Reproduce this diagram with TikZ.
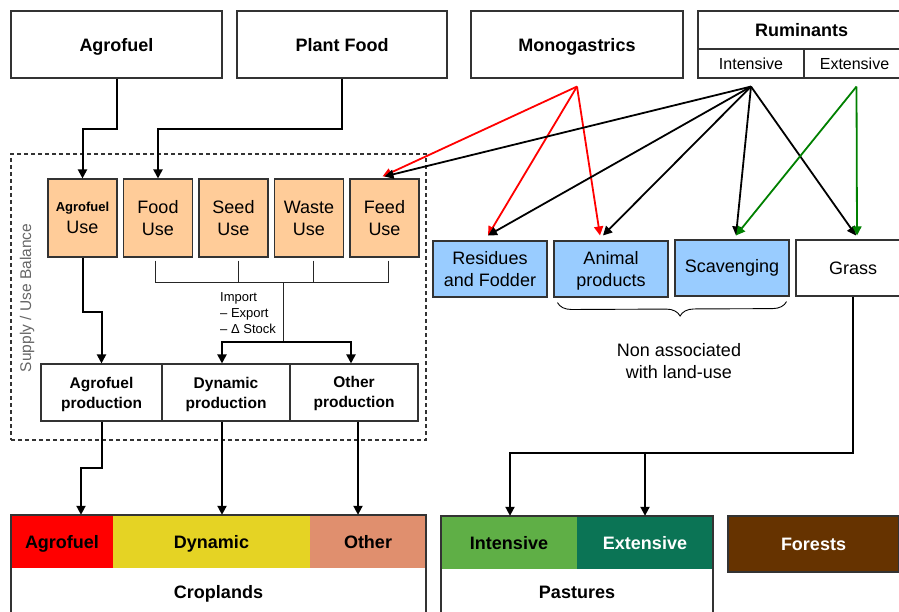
\documentclass[tikz,border=0pt]{standalone}
\usepackage{fontspec}
\setmainfont{Liberation Sans}
\usetikzlibrary{arrows.meta,decorations.pathreplacing}
\definecolor{orange1}{HTML}{FFCC99}
\definecolor{blue1}{HTML}{99CCFF}
\definecolor{cred}{HTML}{FF0000}
\definecolor{cyellow}{HTML}{E5D324}
\definecolor{csalmon}{HTML}{E08F6E}
\definecolor{cgreen}{HTML}{5FAF46}
\definecolor{cteal}{HTML}{0B7455}
\definecolor{cbrown}{HTML}{663300}
\definecolor{agreen}{HTML}{008000}
\definecolor{ared}{HTML}{FF0000}
\begin{document}
\begin{tikzpicture}[x=1pt,y=-1pt,
  box/.style={draw=black!80, line width=1.1pt, inner sep=0pt, align=center, fill=white},
  big/.style={font=\fontsize{18}{22}\selectfont},
  bigb/.style={font=\fontsize{18}{22}\selectfont\bfseries},
  mid/.style={font=\fontsize{16}{19}\selectfont},
  usebox/.style={box, fill=orange1, minimum width=69pt, minimum height=78pt, big},
  prod/.style={box, minimum height=57pt, font=\fontsize{15.5}{20}\selectfont\bfseries},
  bluebox/.style={box, fill=blue1, minimum width=114pt, minimum height=56pt, big},
  cell/.style={draw=none, inner sep=0pt, minimum height=53pt, bigb, text depth=0pt},
  arr/.style={line width=2pt, -{Triangle[length=9pt,width=9pt]}},
  darr/.style={line width=1.8pt, -{Triangle[length=9pt,width=9pt]}},
  brk/.style={line width=1pt, draw=black!85}
]
\useasboundingbox (0,0) rectangle (899,612);

% top boxes
\node[box,bigb,text depth=0pt,minimum width=211pt,minimum height=67pt] (agro) at (116.5,44.5) {Agrofuel};
\node[box,bigb,text depth=0pt,minimum width=210pt,minimum height=67pt] (plant) at (342,44.5) {Plant Food};
\node[box,bigb,text depth=0pt,minimum width=212pt,minimum height=67pt] (mono) at (577,44.5) {Monogastrics};
\node[box,bigb,text depth=0pt,minimum width=207pt,minimum height=38pt] (rum) at (801.5,30) {Ruminants};
\node[box,mid,minimum width=106pt,minimum height=29pt] (rumI) at (751,63.5) {Intensive};
\node[box,mid,minimum width=101pt,minimum height=29pt] (rumE) at (854.5,63.5) {Extensive};

% supply/use balance
\node[draw=black!80, line width=1.1pt, dash pattern=on 4pt off 3pt, minimum width=415pt, minimum height=286pt, inner sep=0pt] (sub) at (218.5,297) {};
\node[rotate=90, font=\fontsize{15.5}{18}\selectfont, text=black!60] (suplab) at (27,298) {Supply / Use Balance};

\node[usebox] (aguse) at (82.5,218) {{\fontsize{13}{15}\selectfont\bfseries Agrofuel}\\Use};
\node[usebox] (food) at (158,218) {Food\\Use};
\node[usebox] (seed) at (233.5,218) {Seed\\Use};
\node[usebox] (waste) at (309,218) {Waste\\Use};
\node[usebox] (feed) at (384.5,218) {Feed\\Use};

\node[prod, minimum width=121pt] (agprod) at (101.5,392.5) {\rule{0pt}{15pt}Agrofuel\\production};
\node[prod, minimum width=128pt] (dyprod) at (226,392.5) {\rule{0pt}{15pt}Dynamic\\production};
\node[prod, minimum width=128pt] (otprod) at (354,392.5) {\rule{0pt}{13pt}Other\\production};

\node[anchor=north west, align=left, font=\fontsize{13}{16}\selectfont, inner sep=0pt] (imp) at (220,292) {Import\\– Export\\– Δ Stock};

% blue boxes
\node[bluebox] (res) at (490,269) {Residues\\and Fodder};
\node[bluebox] (anim) at (611,269) {\rule{0pt}{16pt}Animal\\products};
\node[bluebox] (scav) at (732,268) {Scavenging};
\node[box, big, minimum width=114pt, minimum height=56pt] (grass) at (853,268) {Grass};

\draw[decorate, decoration={brace, mirror, amplitude=14pt, aspect=0.535}, line width=0.9pt]
  ([shift={(4pt,-5pt)}]anim.south west) -- ([shift={(-3pt,-5pt)}]scav.south east);
\node[big, align=center] (nonassoc) at (679,361) {Non associated\\with land-use};

% bottom: croplands
\node[box, minimum width=415pt, minimum height=110pt] (crop) at (218.5,570) {};
\node[cell, fill=cred, minimum width=102pt] (cropA) at (62,541.5) {Agrofuel};
\node[cell, fill=cyellow, minimum width=197pt] (cropD) at (211.5,541.5) {Dynamic};
\node[cell, fill=csalmon, minimum width=116pt] (cropO) at (368,541.5) {Other};
\node[draw=black!80, line width=1.1pt, minimum width=415pt, minimum height=110pt, inner sep=0pt] (cropout) at (218.5,570) {};
\node[bigb, text depth=0pt] (croplab) at (218.5,592) {Croplands};

% pastures
\node[box, minimum width=272pt, minimum height=109pt] (past) at (577,570.5) {};
\node[cell, fill=cgreen, minimum width=136pt] (pastI) at (509,542.5) {Intensive};
\node[cell, fill=cteal, text=white, minimum width=136pt] (pastE) at (645,542.5) {Extensive};
\node[draw=black!80, line width=1.1pt, minimum width=272pt, minimum height=109pt, inner sep=0pt] (pastout) at (577,570.5) {};
\node[bigb, text depth=0pt] (pastlab) at (577,592) {Pastures};

% forests
\node[box, fill=cbrown, text=white, bigb, text depth=0pt, minimum width=171pt, minimum height=56pt] (forest) at (813.5,544) {Forests};

% connectors
\draw[arr] (agro.south) -- ++(0,50) -| (aguse.north);
\draw[arr] (plant.south) -- ++(0,50) -| (food.north);
\draw[arr] (aguse.south) -- ++(0,54) -| (agprod.north);

\draw[brk] ([xshift=-3pt,yshift=-3pt]food.south) |- ([xshift=3.5pt,yshift=-25pt]feed.south);
\draw[brk] ([xshift=4.5pt,yshift=-3pt]seed.south) -- ++(0,22);
\draw[brk] ([xshift=4pt,yshift=-3pt]waste.south) -- ++(0,22);
\draw[brk] ([xshift=3.5pt,yshift=-3pt]feed.south) -- ++(0,22);
\coordinate (trunk) at (283,282);
\coordinate (split) at (283,342);
\draw[brk] (trunk) -- (split);
\draw[arr] (split) -| ([xshift=-4pt]dyprod.north);
\draw[arr] (split) -| ([xshift=-3pt]otprod.north);

\draw[arr] (agprod.south) -- ++(0,46) -| ([xshift=19pt]cropA.north);
\draw[arr] ([xshift=-4pt]dyprod.south) -- ([xshift=-4pt]dyprod.south |- cropD.north);
\draw[arr] ([xshift=4pt]otprod.south) -- ([xshift=4pt]otprod.south |- cropO.north);

\draw[arr] (grass.south) -- ++(0,156) -| ([xshift=1pt]pastI.north);
\draw[arr] ([yshift=64pt]pastE.north) -- (pastE.north);

\coordinate (mp) at ([yshift=-8pt]mono.south);
\coordinate (ip) at ([yshift=-8pt]rumI.south);
\coordinate (ep) at ([shift={(2pt,-8pt)}]rumE.south);

\draw[darr, draw=ared, fill=ared] (mp) -- ([shift={(-2pt,2pt)}]feed.north);
\draw[darr, draw=ared, fill=ared] (mp) -- ([shift={(-2pt,5pt)}]res.north);
\draw[darr, draw=ared, fill=ared] (mp) -- ([shift={(-11pt,5pt)}]anim.north);

\draw[darr] (ip) -- ([shift={(0pt,2pt)}]feed.north);
\draw[darr] (ip) -- ([shift={(-2pt,5pt)}]res.north);
\draw[darr] (ip) -- ([shift={(-8pt,5pt)}]anim.north);
\draw[darr] (ip) -- ([shift={(4pt,4pt)}]scav.north);
\draw[darr] (ip) -- ([shift={(3pt,4pt)}]grass.north);

\draw[darr, draw=agreen, fill=agreen] (ep) -- ([shift={(4pt,4pt)}]scav.north);
\draw[darr, draw=agreen, fill=agreen] (ep) -- ([shift={(4pt,4pt)}]grass.north);
\end{tikzpicture}
\end{document}
